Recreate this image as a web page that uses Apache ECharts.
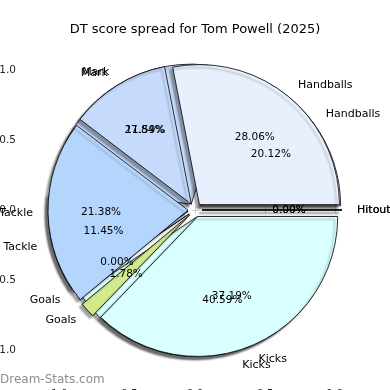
<!DOCTYPE html>
<html>
<head>
<meta charset="utf-8">
<script src="https://cdn.jsdelivr.net/npm/echarts@6/dist/echarts.min.js"></script>
<style>
html,body{margin:0;padding:0;background:#fff;}
#chart{width:390px;height:390px;}
</style>
</head>
<body>
<div id="chart"></div>
<script>
// ---- data ----
var categories = ['Handballs', 'Mark', 'Tackle', 'Goals', 'Kicks', 'Hitout'];
var sharesTop = [28.06, 11.59, 21.38, 1.78, 37.19, 0.00];     // pie drawn on top
var sharesBottom = [20.12, 27.84, 11.45, 0.00, 40.59, 0.00];  // pie drawn underneath
var sliceColors = ['#e8f0fe', '#c6dafc', '#b4d5fc', '#d3ea8c', '#d9ffff', '#ffffff'];
var axisTicks = [-1, -0.5, 0, 0.5, 1];
var titleText = 'DT score spread for Tom Powell (2025)';

var FONT = 'DejaVu Sans';
var CX = 195, CY = 210, R = 140, OFF = 7;

function makeData(vals, withColor) {
  return vals.map(function (v, i) {
    return {
      name: categories[i], value: v, selected: true,
      itemStyle: withColor ? { color: sliceColors[i] } : { color: 'rgba(0,0,0,0)', borderWidth: 0 }
    };
  });
}

function sectorSeries(vals, z) {
  return {
    type: 'pie', z: z, silent: true, animation: false,
    center: [CX, CY], radius: [0, R], startAngle: 0, clockwise: false,
    selectedMode: 'multiple', selectedOffset: OFF, avoidLabelOverlap: false,
    emphasis: { disabled: true },
    itemStyle: {
      borderColor: '#000', borderWidth: 0.8,
      shadowColor: 'rgba(0,0,0,0.35)', shadowBlur: 2, shadowOffsetX: -3, shadowOffsetY: 3
    },
    label: { show: false }, labelLine: { show: false },
    data: makeData(vals, true)
  };
}

function nameSeries(vals) {
  return {
    type: 'pie', z: 10, silent: true, animation: false,
    center: [CX, CY], radius: [0, R], startAngle: 0, clockwise: false,
    selectedMode: 'multiple', selectedOffset: OFF, avoidLabelOverlap: false,
    labelLayout: { hideOverlap: false },
    emphasis: { disabled: true },
    itemStyle: { color: 'rgba(0,0,0,0)', borderWidth: 0 },
    label: {
      show: true, position: 'outside', distanceToLabelLine: 0,
      fontFamily: FONT, fontSize: 11, color: '#000', formatter: '{b}'
    },
    labelLine: { show: false, length: 15, length2: 0 },
    data: makeData(vals, false)
  };
}

function pctSeries(vals) {
  return {
    type: 'pie', z: 10, silent: true, animation: false,
    center: [CX, CY], radius: [0, R * 1.2], startAngle: 0, clockwise: false,
    selectedMode: 'multiple', selectedOffset: OFF, avoidLabelOverlap: false,
    labelLayout: { hideOverlap: false },
    emphasis: { disabled: true },
    itemStyle: { color: 'rgba(0,0,0,0)', borderWidth: 0 },
    label: {
      show: true, position: 'inside',
      fontFamily: FONT, fontSize: 10.5, color: '#000',
      formatter: function (p) { return p.value.toFixed(2) + '%'; }
    },
    labelLine: { show: false },
    data: makeData(vals, false)
  };
}

function tickFmt(v) {
  var s = Math.abs(v).toFixed(1);
  return v < 0 ? '\u2212' + s : s;
}
var LIM = 1.229;
var tickStyle = { show: true, length: 3.5, inside: false, customValues: axisTicks, lineStyle: { color: '#cccccc', width: 1 } };

var chart = echarts.init(document.getElementById('chart'), null, { renderer: 'canvas' });
chart.setOption({
  backgroundColor: '#ffffff',
  animation: false,
  title: {
    text: titleText, left: 'center', top: 18,
    textStyle: { fontFamily: FONT, fontSize: 13, fontWeight: 'normal', color: '#000' }
  },
  grid: { left: 23, right: 23, top: 38, bottom: 8, containLabel: false, outerBoundsMode: 'none' },
  xAxis: [
    { type: 'value', position: 'bottom', min: -LIM, max: LIM,
      axisLine: { show: false }, splitLine: { show: false }, axisTick: tickStyle,
      axisLabel: { show: true, customValues: axisTicks, formatter: tickFmt, margin: 7,
        fontFamily: FONT, fontSize: 10.5, color: '#262626' } },
    { type: 'value', position: 'top', min: -LIM, max: LIM,
      axisLine: { show: false }, splitLine: { show: false }, axisTick: tickStyle,
      axisLabel: { show: false } }
  ],
  yAxis: [
    { type: 'value', position: 'left', min: -LIM, max: LIM,
      axisLine: { show: false }, splitLine: { show: false }, axisTick: tickStyle,
      axisLabel: { show: true, customValues: axisTicks, formatter: tickFmt, margin: 7,
        fontFamily: FONT, fontSize: 10.5, color: '#262626' } },
    { type: 'value', position: 'right', min: -LIM, max: LIM,
      axisLine: { show: false }, splitLine: { show: false }, axisTick: tickStyle,
      axisLabel: { show: false } }
  ],
  graphic: [{
    type: 'text', left: 0, top: 374, silent: true,
    style: { text: 'Dream-Stats.com', fontFamily: FONT, fontSize: 12, fill: 'rgba(120,120,120,0.85)' }
  }],
  series: [
    sectorSeries(sharesBottom, 2),
    sectorSeries(sharesTop, 3),
    nameSeries(sharesBottom),
    nameSeries(sharesTop),
    pctSeries(sharesBottom),
    pctSeries(sharesTop)
  ]
});
</script>
</body>
</html>
